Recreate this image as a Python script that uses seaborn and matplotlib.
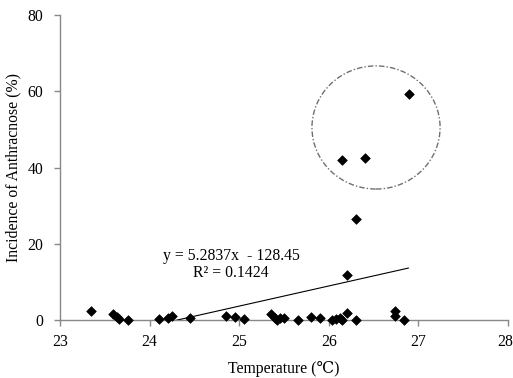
import matplotlib
matplotlib.use("Agg")
import matplotlib.pyplot as plt
from matplotlib.patches import Ellipse
from matplotlib.transforms import ScaledTranslation
import numpy as np
import pandas as pd
import seaborn as sns

temperature = [23.35, 23.595, 23.64, 23.66, 23.755, 24.10, 24.20, 24.25, 24.45,
               24.85, 24.95, 25.05, 25.35, 25.40, 25.42, 25.46, 25.50, 25.66,
               25.80, 25.90, 26.04, 26.08, 26.12, 26.15, 26.20, 26.30, 26.20,
               26.74, 26.74, 26.84, 26.15, 26.40, 26.89, 26.30]
incidence = [2.4, 1.5, 0.9, 0.3, 0.0, 0.3, 0.4, 1.0, 0.4,
             1.0, 0.8, 0.2, 1.5, 0.6, 0.0, 0.6, 0.6, 0.0,
             0.8, 0.4, 0.0, 0.2, 0.6, 0.0, 1.8, 0.0, 11.7,
             2.4, 1.0, 0.0, 41.9, 42.4, 59.3, 26.4]
slope = 5.2837
intercept = -128.45
r_squared = 0.1424
x_ticks = [23, 24, 25, 26, 27, 28]
y_ticks = [0, 20, 40, 60, 80]

sns.set_theme(style="white")
plt.rcParams['font.family'] = ['Liberation Serif', 'DejaVu Serif']

FS = 11.3
df = pd.DataFrame({"Temperature": temperature, "Incidence": incidence})

fig = plt.figure(figsize=(5.13, 3.78), dpi=100)
ax = fig.add_axes([60/513, 58/378, 448/513, 305/378])

sns.scatterplot(data=df, x="Temperature", y="Incidence", ax=ax, marker="D",
                color="black", s=24, edgecolor="black", linewidth=0.5,
                zorder=5, clip_on=False)

xs = np.array([min(temperature), max(temperature)])
sns.lineplot(x=xs, y=slope * xs + intercept, ax=ax, color="black",
             linewidth=0.8, zorder=4)

ell = Ellipse((26.527, 50.5), width=1.43, height=32.3, fill=False,
              edgecolor="#707070", linewidth=1.0, linestyle=(0, (4, 1.5, 1, 1.5)))
ax.add_patch(ell)

ax.text(24.91, 16.8, f"y = {slope}x  - {abs(intercept)}", ha="center", va="center",
        fontsize=FS, color="black")
ax.text(24.91, 12.4, f"R² = {r_squared}", ha="center", va="center",
        fontsize=FS, color="black")

ax.set_xlim(23, 28)
ax.set_ylim(0, 80)
ax.set_xticks(x_ticks)
ax.set_yticks(y_ticks)
ax.set_xlabel("Temperature (℃)", fontsize=FS, color="black", labelpad=8)
ax.set_ylabel("Incidence of Anthracnose (%)", fontsize=FS, color="black", labelpad=4.5)

for side in ["top", "right"]:
    ax.spines[side].set_visible(False)
for side in ["left", "bottom"]:
    ax.spines[side].set_color("#888888")
    ax.spines[side].set_linewidth(1.0)
ax.tick_params(axis="both", direction="out", length=4, width=1.0, color="#888888",
               labelsize=FS, labelcolor="black", bottom=True, left=True)
ax.tick_params(axis="y", pad=8)
ax.tick_params(axis="x", pad=6)

# keep the last x tick label inside the figure, as in the reference
last = ax.get_xticklabels()[-1]
last.set_transform(last.get_transform() + ScaledTranslation(-3/100, 0, fig.dpi_scale_trans))

fig.savefig("out.png", dpi=100)
